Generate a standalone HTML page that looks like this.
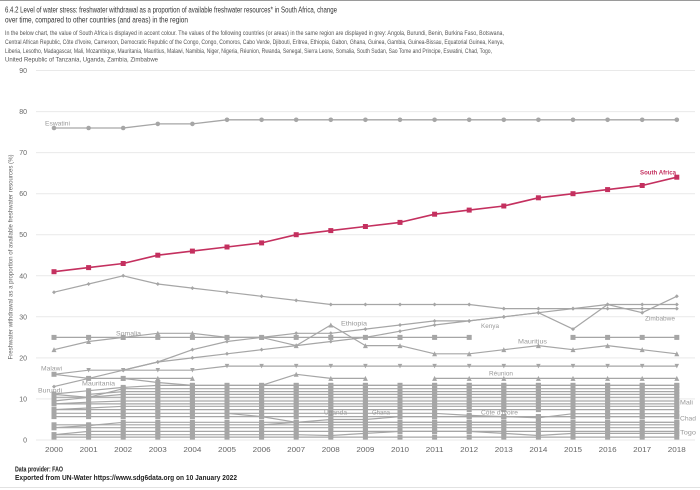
<!DOCTYPE html>
<html><head><meta charset="utf-8">
<style>
html,body{margin:0;padding:0;background:#fff;width:700px;height:490px;overflow:hidden;}
svg{display:block;font-family:"Liberation Sans",sans-serif;}
</style></head>
<body>
<svg id="c" width="700" height="490" viewBox="0 0 700 490" xmlns="http://www.w3.org/2000/svg">
<rect x="0" y="0" width="700" height="490" fill="#fff"/>
<rect x="0" y="0" width="700" height="1" fill="#9a9a9a"/>
<rect x="0" y="487" width="700" height="1" fill="#e2e2e2"/>

<text x="5" y="12.7" font-size="8.6" fill="#333" textLength="332" lengthAdjust="spacingAndGlyphs">6.4.2 Level of water stress: freshwater withdrawal as a proportion of available freshwater resources* in South Africa, change</text>
<text x="5" y="22.5" font-size="8.6" fill="#333" textLength="183" lengthAdjust="spacingAndGlyphs">over time, compared to other countries (and areas) in the region</text>

<g font-size="6" fill="#555">
<text x="5" y="35" textLength="499" lengthAdjust="spacingAndGlyphs">In the below chart, the value of South Africa is displayed in accent colour. The values of the following countries (or areas) in the same region are displayed in grey: Angola, Burundi, Benin, Burkina Faso, Botswana,</text>
<text x="5" y="43.8" textLength="499" lengthAdjust="spacingAndGlyphs">Central African Republic, Côte d'Ivoire, Cameroon, Democratic Republic of the Congo, Congo, Comoros, Cabo Verde, Djibouti, Eritrea, Ethiopia, Gabon, Ghana, Guinea, Gambia, Guinea-Bissau, Equatorial Guinea, Kenya,</text>
<text x="5" y="52.8" textLength="487" lengthAdjust="spacingAndGlyphs">Liberia, Lesotho, Madagascar, Mali, Mozambique, Mauritania, Mauritius, Malawi, Namibia, Niger, Nigeria, Réunion, Rwanda, Senegal, Sierra Leone, Somalia, South Sudan, Sao Tome and Principe, Eswatini, Chad, Togo,</text>
<text x="5" y="61.3" textLength="153" lengthAdjust="spacingAndGlyphs">United Republic of Tanzania, Uganda, Zambia, Zimbabwe</text>
</g>

<g stroke="#e9e9e9" stroke-width="1">
<line x1="36" x2="695" y1="440" y2="440"/>
<line x1="36" x2="695" y1="398.9" y2="398.9"/>
<line x1="36" x2="695" y1="357.9" y2="357.9"/>
<line x1="36" x2="695" y1="316.8" y2="316.8"/>
<line x1="36" x2="695" y1="275.8" y2="275.8"/>
<line x1="36" x2="695" y1="234.7" y2="234.7"/>
<line x1="36" x2="695" y1="193.7" y2="193.7"/>
<line x1="36" x2="695" y1="152.6" y2="152.6"/>
<line x1="36" x2="695" y1="111.6" y2="111.6"/>
<line x1="36" x2="695" y1="70.5" y2="70.5"/>
</g>

<g font-size="7" fill="#666" text-anchor="end">
<text x="27" y="442.5">0</text>
<text x="27" y="401.4">10</text>
<text x="27" y="360.4">20</text>
<text x="27" y="319.3">30</text>
<text x="27" y="278.3">40</text>
<text x="27" y="237.2">50</text>
<text x="27" y="196.2">60</text>
<text x="27" y="155.1">70</text>
<text x="27" y="114.1">80</text>
<text x="27" y="73">90</text>
</g>

<text transform="translate(12.7,257) rotate(-90)" text-anchor="middle" font-size="6" fill="#666" textLength="205" lengthAdjust="spacingAndGlyphs">Freshwater withdrawal as a proportion of available freshwater resources (%)</text>

<g id="xt" font-size="7" fill="#666" text-anchor="middle"></g>
<g id="s"></g>
<g id="lab" font-size="6" fill="#999"></g>

<text x="15" y="471.5" font-size="7" font-weight="bold" fill="#222" textLength="48" lengthAdjust="spacingAndGlyphs">Data provider: FAO</text>
<text x="15" y="480.2" font-size="7" font-weight="bold" fill="#222" textLength="222" lengthAdjust="spacingAndGlyphs">Exported from UN-Water https://www.sdg6data.org on 10 January 2022</text>
</svg>
<script>
(function(){
const ns="http://www.w3.org/2000/svg";
const X=i=>54+i*34.6, Y=v=>440-4.1056*v;
const G=document.getElementById('s');
function el(parent,t,a,txt){const e=document.createElementNS(ns,t);for(const k in a)e.setAttribute(k,a[k]);if(txt!=null)e.textContent=txt;parent.appendChild(e);return e;}
// x ticks
const xt=document.getElementById('xt');
for(let i=0;i<19;i++){el(xt,'text',{x:X(i).toFixed(1),y:451.8,textLength:18,lengthAdjust:'spacingAndGlyphs'},String(2000+i));}
const M={
 sq:(x,y,c,s)=>el(G,'rect',{x:(x-s/2).toFixed(1),y:(y-s/2).toFixed(1),width:s,height:s,fill:c}),
 ci:(x,y,c,s)=>el(G,'circle',{cx:x.toFixed(1),cy:y.toFixed(1),r:s/2,fill:c}),
 tu:(x,y,c,s)=>el(G,'polygon',{points:`${x},${y-s/2} ${x+s/2},${y+s/2} ${x-s/2},${y+s/2}`,fill:c}),
 td:(x,y,c,s)=>el(G,'polygon',{points:`${x-s/2},${y-s/2} ${x+s/2},${y-s/2} ${x},${y+s/2}`,fill:c}),
 di:(x,y,c,s)=>el(G,'polygon',{points:`${x},${y-s/2} ${x+s/2},${y} ${x},${y+s/2} ${x-s/2},${y}`,fill:c})
};
function series(vals,color,mk,ms,lw){
 let d='',pen=false;
 vals.forEach((v,i)=>{if(v==null){pen=false;return;}d+=(pen?'L':'M')+X(i).toFixed(1)+' '+Y(v).toFixed(1);pen=true;});
 el(G,'path',{d:d,fill:'none',stroke:color,'stroke-width':lw,'stroke-linejoin':'round'});
 vals.forEach((v,i)=>{if(v==null)return;M[mk](X(i),Y(v),color,ms);});
}
const F=(v,n)=>Array(n).fill(v);
const gr='#a6a6a6';
// bundle
const bundle=[
 [11.2,12,12.8].concat(F(13.3,16)),
 [9.5,10.4].concat(F(12.5,17)),
 [null,11.1].concat(F(11.8,17)),
 [11.1,10.4].concat(F(11.1,17)),
 F(10.4,19),
 [8.8,9.2].concat(F(9.5,17)),
 F(8.8,19),
 [7.4,7.8].concat(F(8.2,17)),
 F(7.4,19),
 [6.5,6.5,6.5,6.5,6.5,6.5,6.5,6.5,6.5,6.5,6.5,6.5,6.0,5.7,5.4,6.4,6.4,6.4,6.4],
 F(5.7,19),
 [3.0,3.5].concat(F(4.3,17)),
 F(3.7,19),
 F(3.0,19),
 [1.3].concat(F(2.1,18)),
 [1.3,1.3,1.3,1.3,1.3,1.3,1.3,1.3,1.1,1.6,2.1,2.1,2.1,1.6,1.1,1.6,1.6,1.6,1.6],
 F(0.7,19),
 [null,null,null,null,null,6.5,5.7,4.3,4.3,4.3,4.3,4.3,4.3,4.3,4.3,4.3,4.3,4.3,4.3],
 [null,null,null,null,null,null,3.7,4.3,5.0,5.0,5.7,5.7,5.7,5.7,5.7,5.7,5.7,5.7,5.7]
];
bundle.forEach(b=>series(b,gr,'sq',5,1.2));
series([16,15,15,14,13.3,13.3,13.3,13.3,13.3,13.3,13.3,13.3,13.3,13.3,13.3,13.3,13.3,13.3,13.3],gr,'sq',5,1.2); // Mauritania
series([null,null,15,15,15,null,13.3,16,15,15,null,15,15,15,15,15,15,15,15],gr,'tu',5,1.2); // Reunion
series([16,17,17,17,17,18,18,18,18,18,18,18,18,18,18,18,18,18,18],gr,'td',4.5,1.2); // Malawi
series([25,25,25,25,25,25,25,25,25,25,25,25,25,null,null,25,25,25,25],gr,'sq',5,1.2);
series([22,24,25,26,26,25,25,23,28,23,23,21,21,22,23,22,23,22,21],gr,'tu',5,1.2);
series([null,null,17,19,20,21,22,23,24,25,26.5,28,29,30,31,27,33,31,35],gr,'di',4,1.2); // Zimbabwe
series([13,15,17,19,22,24,25,26,26,27,28,29,29,30,31,32,33,33,33],gr,'di',4,1.2); // Kenya
series([36,38,40,38,37,36,35,34,33,33,33,33,33,32,32,32,32,32,32],gr,'di',4,1.2);
series([76,76,76,77,77,78,78,78,78,78,78,78,78,78,78,78,78,78,78],gr,'ci',4.6,1.3); // Eswatini
series([41,42,43,45,46,47,48,50,51,52,53,55,56,57,59,60,61,62,64],'#c4305f','sq',5,1.6); // South Africa
// labels
const L=document.getElementById('lab');
const labs=[
 ['Eswatini',45,125.3,25],['Somalia',116,335.3,25],['Ethiopia',341,325.3,26],['Kenya',481,328,18],
 ['Zimbabwe',645,320.3,30],['Mauritius',518,343.7,29],['Réunion',489,375.7,24],['Malawi',41,370.3,21],
 ['Burundi',38,392.7,24],['Mauritania',82,385.7,33],['Uganda',324,414.3,23],['Ghana',372,414.3,18],
 ["Côte d'Ivoire",481,414.3,37],['Mali',680,404.3,13],['Chad',680,420.3,16],['Togo',680,434.3,16]
];
labs.forEach(l=>el(L,'text',{x:l[1],y:l[2],textLength:l[3],lengthAdjust:'spacingAndGlyphs'},l[0]));
el(L,'text',{x:640,y:174.3,textLength:36,lengthAdjust:'spacingAndGlyphs',fill:'#c4305f','font-weight':'bold'},'South Africa');
})();
</script>
</body></html>
